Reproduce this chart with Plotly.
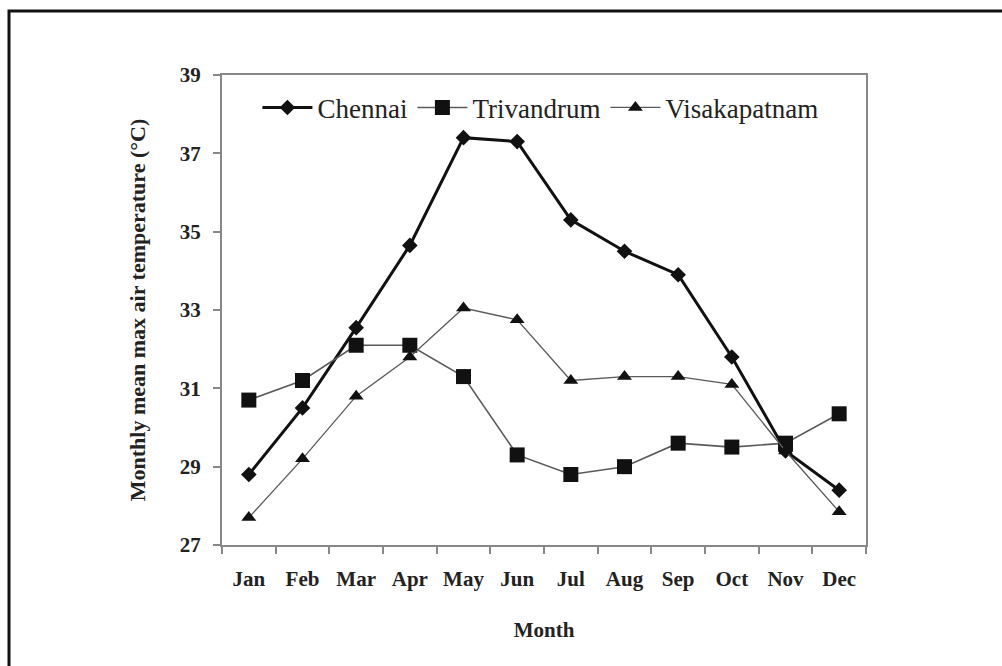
import plotly.graph_objects as go

months = ["Jan", "Feb", "Mar", "Apr", "May", "Jun", "Jul", "Aug", "Sep", "Oct", "Nov", "Dec"]
chennai = [28.8, 30.5, 32.55, 34.65, 37.4, 37.3, 35.3, 34.5, 33.9, 31.8, 29.4, 28.4]
trivandrum = [30.7, 31.2, 32.1, 32.1, 31.3, 29.3, 28.8, 29.0, 29.6, 29.5, 29.6, 30.35]
visakapatnam = [27.7, 29.2, 30.8, 31.8, 33.05, 32.75, 31.2, 31.3, 31.3, 31.1, 29.4, 27.85]
y_ticks = [27, 29, 31, 33, 35, 37, 39]

SERIF = "Liberation Serif"

fig = go.Figure()
fig.add_trace(go.Scatter(x=months, y=chennai, name="Chennai", mode="lines+markers",
                         line=dict(color="#111111", width=3),
                         marker=dict(symbol="diamond", size=12, color="#111111")))
fig.add_trace(go.Scatter(x=months, y=trivandrum, name="Trivandrum", mode="lines+markers",
                         line=dict(color="#5a5a5a", width=1.6),
                         marker=dict(symbol="square", size=15, color="#111111")))
fig.add_trace(go.Scatter(x=months, y=visakapatnam, name="Visakapatnam", mode="lines+markers",
                         line=dict(color="#5a5a5a", width=1.3),
                         marker=dict(symbol="triangle-up", size=13, color="#111111")))

tick_font = dict(family=SERIF, size=21, color="#222222", weight="bold")
fig.update_layout(
    width=1002, height=666,
    margin=dict(l=222, r=136, t=75, b=121),
    paper_bgcolor="white", plot_bgcolor="white",
    font=dict(family=SERIF, color="#222222"),
    showlegend=True,
    legend=dict(orientation="h", x=0.055, y=0.93, xanchor="left", yanchor="middle",
                font=dict(family=SERIF, size=27, color="#222222", weight="normal"),
                itemwidth=50,
                bgcolor="rgba(0,0,0,0)", tracegroupgap=0),
    xaxis=dict(type="category", categoryorder="array", categoryarray=months,
               range=[-0.5, 11.5], tickson="boundaries",
               ticks="outside", ticklen=7, tickcolor="#888888", tickwidth=2,
               showline=True, linecolor="#888888", linewidth=2, mirror=True,
               showgrid=False, zeroline=False, ticklabelstandoff=14,
               tickfont=tick_font,
               title=dict(text="Month", font=dict(family=SERIF, size=21, color="#222222", weight="bold"), standoff=32)),
    yaxis=dict(range=[27, 39], tickvals=y_ticks,
               ticks="outside", ticklen=7, tickcolor="#888888", tickwidth=2,
               showline=True, linecolor="#888888", linewidth=2, mirror=True,
               showgrid=False, zeroline=False, ticklabelstandoff=8,
               tickfont=tick_font,
               title=dict(text="Monthly mean max air temperature (°C)",
                          font=dict(family=SERIF, size=22, color="#222222", weight="bold"), standoff=28)),
)

# outer frame
fig.add_shape(type="rect", xref="paper", yref="paper",
              x0=(9 - 222) / 644, x1=(1010 - 222) / 644,
              y0=(545 - 700) / 470, y1=(545 - 11) / 470,
              line=dict(color="#111111", width=3), fillcolor="rgba(0,0,0,0)", layer="below")

fig.write_html("out.html", config={"displayModeBar": False},
               post_script="document.body.style.margin='0';")
